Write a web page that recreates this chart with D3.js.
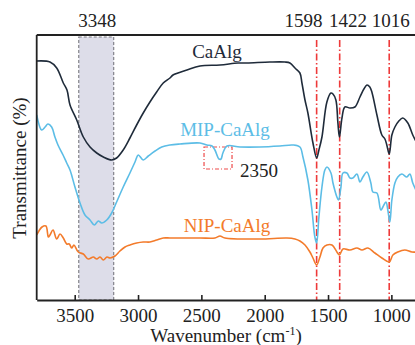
<!DOCTYPE html>
<html><head><meta charset="utf-8">
<script src="https://cdn.jsdelivr.net/npm/d3@7"></script>
</head><body style="margin:0"><svg id="c" width="415" height="345"></svg>
<script>
// wavenumber (cm-1) and relative transmittance (a.u.)
const caAlgW = [3800,3695,3642,3590,3561,3537,3484,3432,3379,3326,3274,3208,3169,3117,3064,3011,2959,2906,2853,2801,2748,2724,2614,2511,2353,2211,2140,1959,1840,1801,1761,1722,1706,1682,1659,1619,1590,1572,1548,1509,1477,1461,1438,1422,1410,1390,1367,1327,1288,1248,1217,1193,1170,1154,1114,1075,1051,1036,1017,996,972,941,910,870,831,799];
const caAlgT = [239,238,232,217,210,195,180,163,153,147,143,140,142,150,162,175,187,198,208,217,222,225,230,234,235,237,237,238,238,237,232,227,217,200,187,157,142,150,163,198,207,206,200,177,163,182,193,192,193,203,211,215,213,208,185,165,161,155,146,165,173,179,182,177,165,157];
const mipW = [3800,3761,3734,3711,3682,3656,3632,3592,3563,3537,3498,3458,3419,3379,3345,3314,3287,3247,3208,3169,3117,3064,3024,2998,2959,2919,2866,2813,2748,2669,2511,2456,2416,2393,2361,2345,2330,2298,2195,2037,1880,1777,1722,1698,1659,1627,1604,1590,1572,1548,1525,1509,1477,1461,1430,1418,1398,1382,1351,1327,1304,1272,1248,1225,1193,1162,1146,1114,1083,1067,1043,1028,1012,996,972,949,917,878,854,831,799];
const mipT = [185,170,173,176,173,163,155,145,137,130,113,97,85,80,75,79,77,80,87,98,113,127,138,145,140,144,149,153,155,156,157,155,154,150,141,141,147,154,153,153,154,155,153,143,120,90,63,57,83,113,130,133,127,117,103,100,113,127,127,122,122,126,118,123,128,117,108,107,90,93,98,90,78,100,117,123,126,123,126,117,108];
const nipW = [3800,3758,3727,3708,3695,3671,3642,3616,3590,3563,3543,3524,3506,3472,3432,3393,3353,3326,3300,3274,3245,3221,3182,3143,3103,3064,3011,2959,2906,2853,2801,2748,2669,2511,2393,2353,2314,2037,1824,1761,1722,1682,1643,1619,1590,1564,1540,1509,1469,1430,1410,1382,1327,1272,1232,1185,1130,1075,1017,988,949,894,838,799];
const nipT = [65,73,74,63,65,70,61,66,62,56,56,52,55,48,46,41,43,41,43,40,43,42,44,49,53,55,57,58,58,60,62,62,62,62,62,64,62,61,62,61,59,55,48,42,35,43,52,55,55,48,45,51,50,52,50,52,47,42,38,45,48,50,48,48];

const seriesNames = ["CaAlg","MIP-CaAlg","NIP-CaAlg"];
const xTicks = [3500,3000,2500,2000,1500,1000];
const bandRange = [3468,3192];            // shaded O–H region
const bandLabel = "3348";
const peakLines = [1590,1408,1017];        // red dash-dot markers
const peakLabels = ["1598","1422","1016"];
const peakLabelAt = [1694,1343,1004];
const boxRange = {w:[2479,2258], t:[131,153]};
const boxLabel = "2350";

const FONT = "'Liberation Serif'";
const svg = d3.select("#c");
const L=36.7, R=416.7, T=35, B=300;
const x = d3.scaleLinear().domain([3800,800]).range([L,R]);
const y = d3.scaleLinear().domain([0,265]).range([B,T]);

// shaded band
svg.append("rect").attr("x",x(bandRange[0])).attr("y",37)
  .attr("width",x(bandRange[1])-x(bandRange[0])).attr("height",B-37)
  .attr("fill","#dddde9").attr("stroke","#7a7a80").attr("stroke-width",1.1).attr("stroke-dasharray","3,2");

// red lines
peakLines.forEach(p=>{
  svg.append("line").attr("x1",x(p)).attr("x2",x(p)).attr("y1",40).attr("y2",B)
    .attr("stroke","#ee3a3a").attr("stroke-width",1.6).attr("stroke-dasharray","7,2.5,1.5,2.5");
});

// dashed box
svg.append("rect").attr("x",x(boxRange.w[0])).attr("y",y(boxRange.t[1]))
  .attr("width",x(boxRange.w[1])-x(boxRange.w[0])).attr("height",y(boxRange.t[0])-y(boxRange.t[1]))
  .attr("fill","none").attr("stroke","#ee4a4a").attr("stroke-width",1.2).attr("stroke-dasharray","4,2,1,2");

const line = d3.line().x(d=>x(d[0])).y(d=>y(d[1])).curve(d3.curveCatmullRom.alpha(0.5));
const series = [
  {w:caAlgW,t:caAlgT,c:"#1f2b3a"},
  {w:mipW,t:mipT,c:"#5cbde6"},
  {w:nipW,t:nipT,c:"#f37b2b"}
];
series.forEach(s=>{
  svg.append("path").datum(s.w.map((w,i)=>[w,s.t[i]])).attr("d",line)
    .attr("fill","none").attr("stroke",s.c).attr("stroke-width",1.6).attr("stroke-linejoin","round");
});

// axes frame
const xAxis = d3.axisBottom(x).tickValues(xTicks).tickFormat(d3.format("d")).tickSizeInner(-5).tickSizeOuter(0).tickPadding(8.5);
const gx = svg.append("g").attr("transform",`translate(0,${B})`).call(xAxis);
gx.attr("font-family","Liberation Serif").attr("font-size",19);
gx.select(".domain").attr("stroke","#222").attr("stroke-width",1.8);
gx.selectAll(".tick line").attr("stroke","#222").attr("stroke-width",1.6);
gx.selectAll(".tick text").attr("fill","#222").style("font-family",FONT).style("font-size","19px");

svg.append("line").attr("x1",L).attr("x2",L).attr("y1",T).attr("y2",B).attr("stroke","#222").attr("stroke-width",1.8);
svg.append("line").attr("x1",L).attr("x2",415).attr("y1",T).attr("y2",T).attr("stroke","#222").attr("stroke-width",1.8);

// labels
function txt(s,xx,yy,c){
  return svg.append("text").attr("x",xx).attr("y",yy).attr("font-size",19)
    .style("font-family",FONT).attr("fill",c||"#222").attr("text-anchor","middle").text(s);
}
txt(bandLabel, x((bandRange[0]+bandRange[1])/2)+1, 27);
peakLabels.forEach((l,i)=>txt(l,x(peakLabelAt[i]),27));
txt(seriesNames[0],217,58,"#1f2b3a");
txt(seriesNames[1],225,136,"#5cbde6");
txt(seriesNames[2],227,232,"#f37b2b");
txt(boxLabel,259,177);

const xt = svg.append("text").attr("x",226).attr("y",342).attr("font-size",19).style("font-family",FONT).attr("text-anchor","middle").attr("fill","#222");
xt.append("tspan").text("Wavenumber (cm");
xt.append("tspan").text("-1").attr("font-size",12).attr("dy",-7);
xt.append("tspan").text(")").attr("dy",7);
svg.append("text").attr("transform","translate(26,168) rotate(-90)").attr("font-size",19).style("font-family",FONT)
  .attr("text-anchor","middle").attr("fill","#222").text("Transmittance (%)");
</script></body></html>
